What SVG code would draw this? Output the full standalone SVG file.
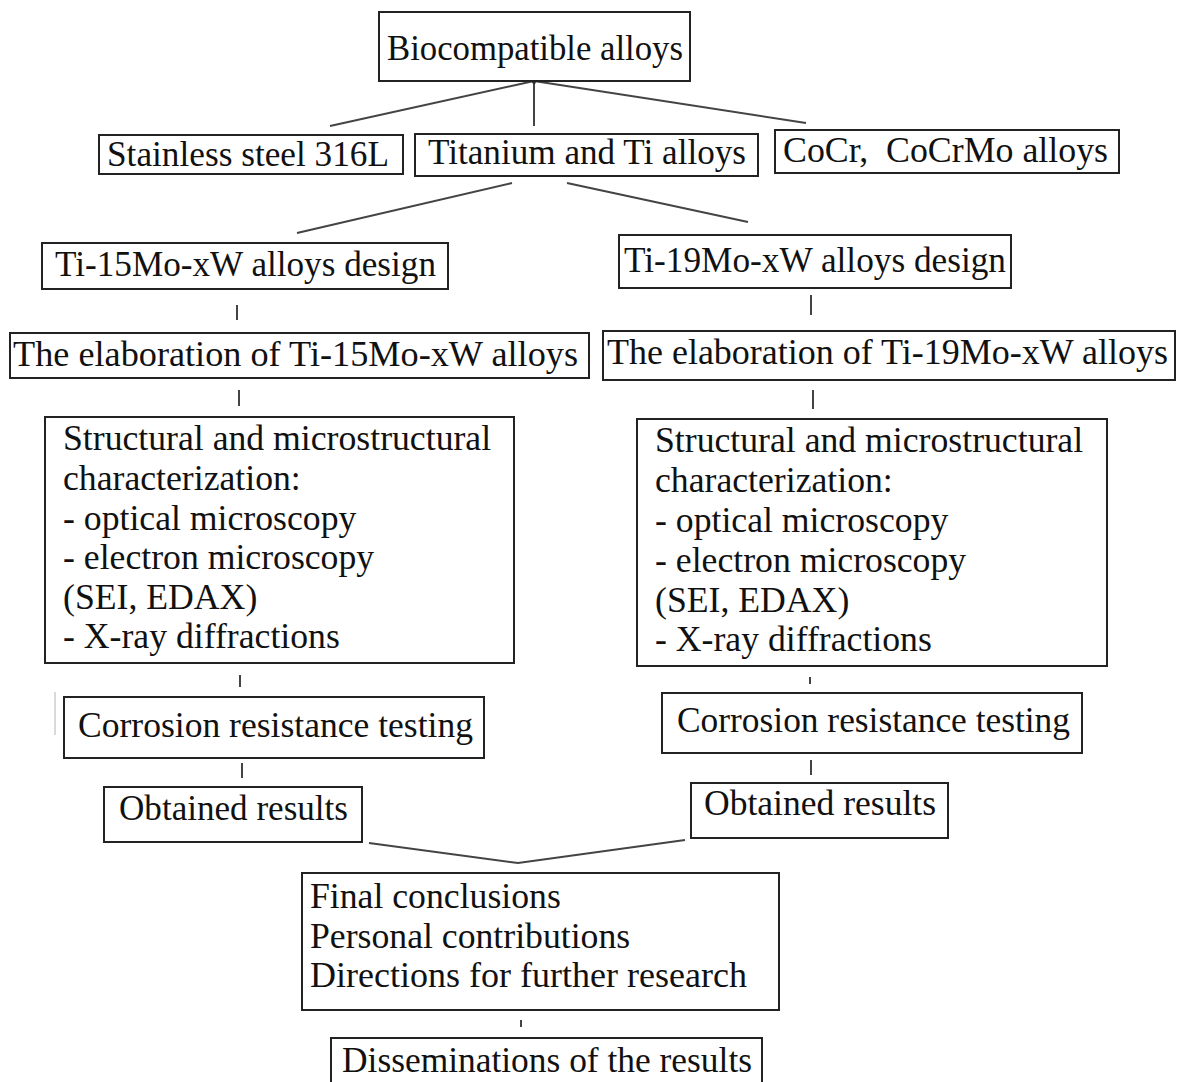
<svg xmlns="http://www.w3.org/2000/svg" width="1188" height="1082" viewBox="0 0 1188 1082">
<style>
.box{fill:#fff;stroke:#222;stroke-width:2}
.t{font-size:35px;fill:#111}
.m{font-size:35.7px;fill:#111}
.c{fill:none;stroke:#444;stroke-width:2}
.f{fill:none;stroke:#ccc;stroke-width:1.5}
</style>
<rect width="1188" height="1082" fill="#fff"/>
<g id="connectors">
<path class="c" d="M534 81 L330 126"/>
<path class="c" d="M534 81 L534 126"/>
<path class="c" d="M534 81 L806 123"/>
<circle cx="534" cy="82" r="2" fill="#333"/>
<path class="c" d="M512 183 L297 233"/>
<path class="c" d="M567 183 L748 222"/>
<path class="c" d="M237 305 V320"/>
<path class="c" d="M811 295 V315"/>
<path class="c" d="M239 390 V406"/>
<path class="c" d="M813 390 V409"/>
<path class="c" d="M240 675 V687"/>
<path class="c" d="M810 677 V684"/>
<path class="c" d="M242 763 V778"/>
<path class="c" d="M811 760 V775"/>
<path class="c" d="M369 843 L518 863 L685 840"/>
<path class="c" d="M521 1020 V1027"/>
<path class="f" d="M55 692 V735"/>
</g>
<g font-family="Liberation Serif, Tinos, DejaVu Serif, serif">
<g id="n-bio"><rect class="box" x="379" y="12" width="311" height="69"/><text class="t" x="387" y="60" textLength="296" lengthAdjust="spacingAndGlyphs">Biocompatible alloys</text></g>
<g id="n-ss"><rect class="box" x="99" y="135" width="304" height="39"/><text class="t" x="107" y="166" textLength="282" lengthAdjust="spacingAndGlyphs">Stainless steel 316L</text></g>
<g id="n-ti"><rect class="box" x="415" y="134" width="343" height="42"/><text class="t" x="428" y="164" textLength="318" lengthAdjust="spacingAndGlyphs">Titanium and Ti alloys</text></g>
<g id="n-cocr"><rect class="box" x="775" y="130" width="344" height="43"/><text class="t" x="783" y="162" textLength="325" lengthAdjust="spacingAndGlyphs">CoCr,&#160; CoCrMo alloys</text></g>
<g id="n-d15"><rect class="box" x="42" y="243" width="406" height="46"/><text class="t" x="55" y="276" textLength="381" lengthAdjust="spacingAndGlyphs">Ti-15Mo-xW alloys design</text></g>
<g id="n-d19"><rect class="box" x="619" y="235" width="392" height="53"/><text class="t" x="624" y="272" textLength="382" lengthAdjust="spacingAndGlyphs">Ti-19Mo-xW alloys design</text></g>
<g id="n-e15"><rect class="box" x="10" y="333" width="579" height="45"/><text class="t" x="13" y="366" textLength="565" lengthAdjust="spacingAndGlyphs">The elaboration of Ti-15Mo-xW alloys</text></g>
<g id="n-e19"><rect class="box" x="603" y="331" width="572" height="49"/><text class="t" x="607" y="364" textLength="561" lengthAdjust="spacingAndGlyphs">The elaboration of Ti-19Mo-xW alloys</text></g>
<g id="n-s15"><rect class="box" x="45" y="417" width="469" height="246"/>
<text class="m" x="63" y="450">Structural and microstructural</text>
<text class="m" x="63" y="490">characterization:</text>
<text class="m" x="63" y="530">- optical microscopy</text>
<text class="m" x="63" y="569">- electron microscopy</text>
<text class="m" x="63" y="609">(SEI, EDAX)</text>
<text class="m" x="63" y="648">- X-ray diffractions</text></g>
<g id="n-s19"><rect class="box" x="637" y="419" width="470" height="247"/>
<text class="m" x="655" y="452">Structural and microstructural</text>
<text class="m" x="655" y="492">characterization:</text>
<text class="m" x="655" y="532">- optical microscopy</text>
<text class="m" x="655" y="572">- electron microscopy</text>
<text class="m" x="655" y="612">(SEI, EDAX)</text>
<text class="m" x="655" y="651">- X-ray diffractions</text></g>
<g id="n-c15"><rect class="box" x="64" y="697" width="420" height="61"/><text class="t" x="78" y="737" textLength="395" lengthAdjust="spacingAndGlyphs">Corrosion resistance testing</text></g>
<g id="n-c19"><rect class="box" x="662" y="693" width="420" height="60"/><text class="t" x="677" y="732" textLength="393" lengthAdjust="spacingAndGlyphs">Corrosion resistance testing</text></g>
<g id="n-o15"><rect class="box" x="104" y="787" width="258" height="55"/><text class="t" x="119" y="820" textLength="229" lengthAdjust="spacingAndGlyphs">Obtained results</text></g>
<g id="n-o19"><rect class="box" x="691" y="783" width="257" height="55"/><text class="t" x="704" y="815" textLength="232" lengthAdjust="spacingAndGlyphs">Obtained results</text></g>
<g id="n-final"><rect class="box" x="302" y="873" width="477" height="137"/>
<text class="m" x="310" y="908">Final conclusions</text>
<text class="m" x="310" y="948">Personal contributions</text>
<text class="m" x="310" y="987" textLength="437" lengthAdjust="spacingAndGlyphs">Directions for further research</text></g>
<g id="n-diss"><rect class="box" x="331" y="1038" width="431" height="60"/><text class="t" x="342" y="1072" textLength="410" lengthAdjust="spacingAndGlyphs">Disseminations of the results</text></g>
</g>
</svg>
